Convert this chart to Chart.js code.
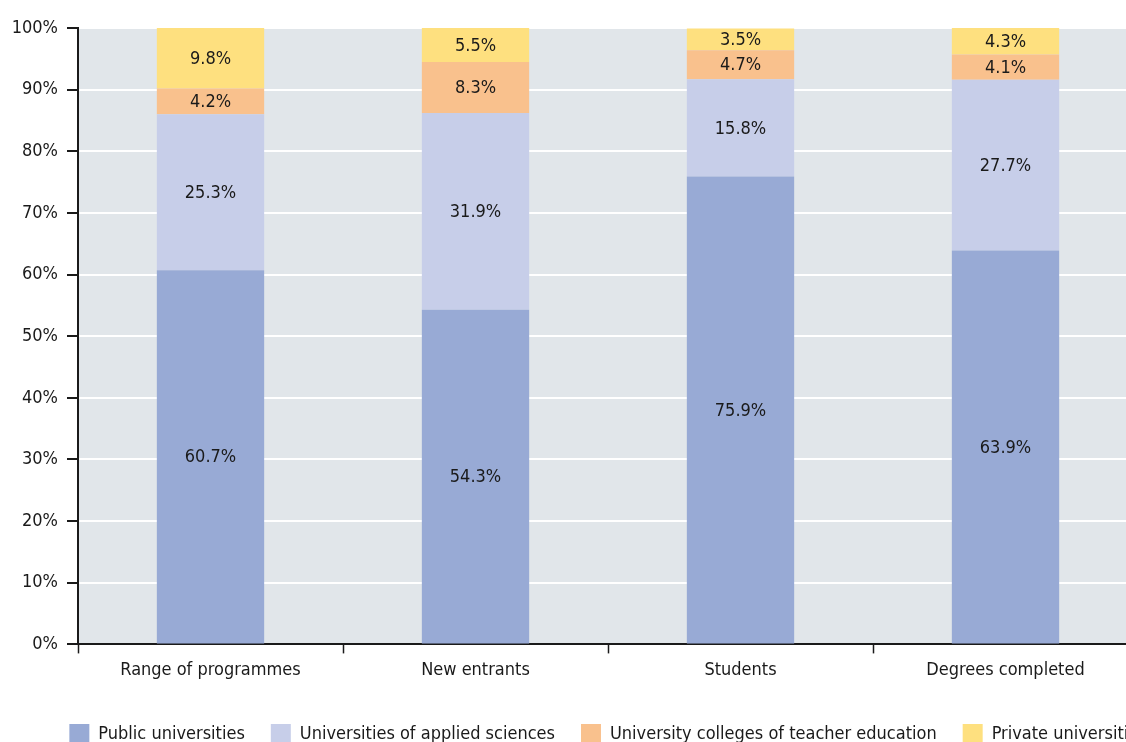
<!DOCTYPE html>
<html>
<head>
<meta charset="utf-8">
<style>
  html, body { margin: 0; padding: 0; background: #fff; overflow: hidden; }
  #wrap { width: 1216px; height: 754px; }
</style>
<script src="https://cdn.jsdelivr.net/npm/chart.js@4.4.1/dist/chart.umd.min.js"></script>
</head>
<body>
<div id="wrap"><canvas id="shareChart"></canvas></div>
<script>
const categories = ["Range of programmes", "New entrants", "Students", "Degrees completed"];
const publicUniversities = [60.7, 54.3, 75.9, 63.9];
const appliedSciences = [25.3, 31.9, 15.8, 27.7];
const teacherEducation = [4.2, 8.3, 4.7, 4.1];
const privateUniversities = [9.8, 5.5, 3.5, 4.3];

const FONT = "'DejaVu Sans Condensed', 'Liberation Sans Narrow', sans-serif";
const INK = "#1a1a1a";

// grey panel behind the bars
const panelBackground = {
  id: "panelBackground",
  beforeDraw(chart) {
    const { ctx, chartArea: a } = chart;
    ctx.save();
    ctx.fillStyle = "#e1e6ea";
    ctx.fillRect(a.left, a.top, a.right - a.left, a.bottom - a.top);
    ctx.restore();
  }
};

// percentage printed in the middle of every segment
const segmentLabels = {
  id: "segmentLabels",
  afterDatasetsDraw(chart) {
    const { ctx } = chart;
    ctx.save();
    ctx.font = "18px " + FONT;
    ctx.fillStyle = INK;
    ctx.textAlign = "center";
    ctx.textBaseline = "middle";
    chart.data.datasets.forEach((ds, i) => {
      chart.getDatasetMeta(i).data.forEach((bar, j) => {
        const v = ds.data[j];
        const y = (bar.y + bar.base) / 2;
        ctx.fillText(v.toFixed(1) + "%", bar.x, y + 1);
      });
    });
    ctx.restore();
  }
};

new Chart(document.getElementById("shareChart"), {
  type: "bar",
  data: {
    labels: categories,
    datasets: [
      { label: "Public universities", data: publicUniversities, backgroundColor: "#98aad5" },
      { label: "Universities of applied sciences", data: appliedSciences, backgroundColor: "#c7cee9" },
      { label: "University colleges of teacher education", data: teacherEducation, backgroundColor: "#f9c18d" },
      { label: "Private universities", data: privateUniversities, backgroundColor: "#fee07f" }
    ]
  },
  options: {
    responsive: true,
    maintainAspectRatio: false,
    animation: false,
    layout: { padding: { top: 28, right: 0, left: 0, bottom: 0 } },
    datasets: { bar: { categoryPercentage: 1, barPercentage: 0.405 } },
    plugins: {
      tooltip: { enabled: false },
      legend: {
        position: "bottom",
        labels: {
          boxWidth: 20,
          boxHeight: 20,
          padding: 26,
          color: INK,
          font: { family: FONT, size: 18 }
        }
      }
    },
    scales: {
      x: {
        stacked: true,
        grid: { offset: true, drawOnChartArea: false, tickLength: 9, tickColor: INK, tickWidth: 1.5 },
        border: { color: INK, width: 2 },
        ticks: { color: INK, padding: 6, font: { family: FONT, size: 18 } },
        afterFit(scale) { scale.height += 11; }
      },
      y: {
        stacked: true,
        min: 0,
        max: 100,
        grid: { color: "#ffffff", lineWidth: 2, tickLength: 11, tickColor: INK, tickWidth: 2 },
        border: { color: INK, width: 2 },
        ticks: {
          stepSize: 10,
          color: INK,
          padding: 9,
          font: { family: FONT, size: 18 },
          callback: v => v + "%"
        },
        afterFit(scale) { scale.width = 78; }
      },
      // empty right-hand axis that only reserves margin beside the plot
      spacer: {
        position: "right",
        grid: { display: false },
        border: { display: false },
        ticks: { display: false },
        afterFit(scale) { scale.width = 78; }
      }
    }
  },
  plugins: [panelBackground, segmentLabels]
});
</script>
</body>
</html>
